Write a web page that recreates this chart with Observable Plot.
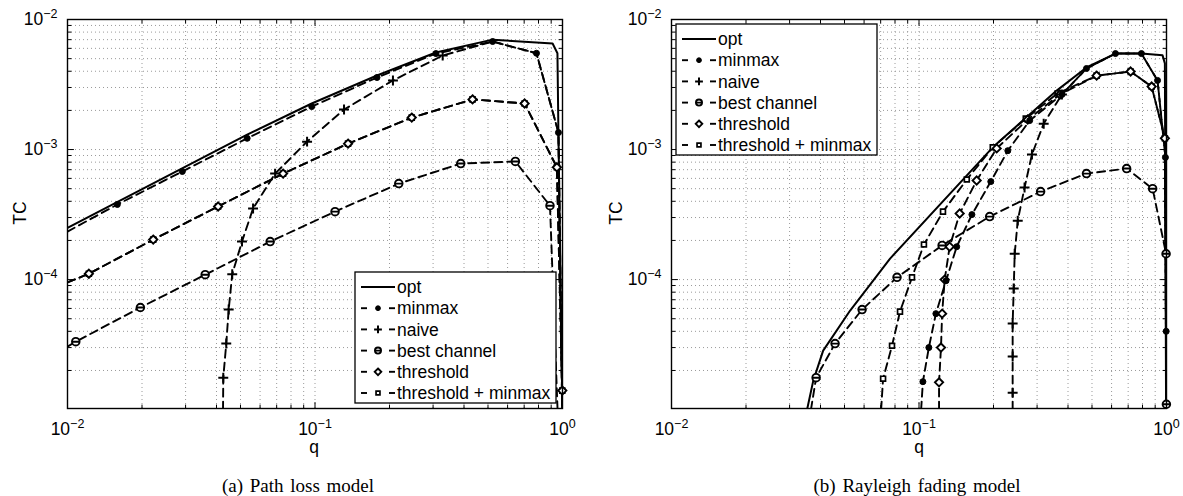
<!DOCTYPE html>
<html><head><meta charset="utf-8">
<script src="https://cdn.jsdelivr.net/npm/d3@7"></script>
<script src="https://cdn.jsdelivr.net/npm/@observablehq/plot@0.6"></script>
<style>
body{margin:0;background:#fff;width:1183px;height:496px;overflow:hidden;}
#wrap{position:relative;width:1183px;height:496px;font-family:"Liberation Sans",Arial,sans-serif;}
#wrap > div.panel{position:absolute;top:0;}
#overlay{position:absolute;left:0;top:0;pointer-events:none;}
</style></head><body><div id="wrap"></div>
<script>
// ---------- chart values ----------
const xDomain = [0.01, 1];
const yDomain = [1.02e-5, 1e-2];
const xMajor = [0.01, 0.1, 1];
const yMajor = [1e-4, 1e-3, 1e-2];
const xLabel = "q";
const yLabel = "TC";
const legendLabels = ["opt", "minmax", "naive", "best channel", "threshold", "threshold + minmax"];
const captions = ["(a) Path loss model", "(b) Rayleigh fading model"];

// [q, TC, marker(1) or plain vertex(0)]
// Panel (a): path loss model
const a_opt = [[0.01,2.5e-4],[0.0532,1.3e-3],[0.097,2.26e-3],[0.178,3.71e-3],[0.308,5.57e-3],[0.522,7.0e-3],[0.912,6.53e-3],[0.954,5.5e-3],[0.963,1.3e-3],[0.999,1e-5]];
const a_minmax = [[0.01,2.34e-4,0],[0.0159,3.78e-4,1],[0.0291,6.78e-4,1],[0.0532,1.22e-3,1],[0.097,2.14e-3,1],[0.178,3.58e-3,1],[0.308,5.47e-3,1],[0.522,6.77e-3,1],[0.785,5.5e-3,1],[0.963,1.35e-3,1],[0.997,1e-5,0]];
const a_naive = [[0.0425,1e-5,0],[0.0426,1.76e-5,1],[0.0438,3.22e-5,1],[0.0448,5.88e-5,1],[0.0463,1.1e-4,1],[0.0507,1.96e-4,1],[0.0562,3.52e-4,1],[0.069,6.53e-4,1],[0.0929,1.15e-3,1],[0.131,2.03e-3,1],[0.2065,3.4e-3,1],[0.328,5.28e-3,1],[0.522,6.77e-3,0],[0.785,5.5e-3,0],[0.963,1.35e-3,0],[0.997,1e-5,0]];
const a_best = [[0.01,3.05e-5,0],[0.0108,3.33e-5,1],[0.0197,6.1e-5,1],[0.036,1.09e-4,1],[0.0659,1.96e-4,1],[0.1205,3.33e-4,1],[0.218,5.47e-4,1],[0.388,7.8e-4,1],[0.645,8.1e-4,1],[0.89,3.7e-4,1],[0.955,1e-5,0]];
const a_threshold = [[0.01,9.5e-5,0],[0.0122,1.11e-4,1],[0.0222,2.03e-4,1],[0.0406,3.65e-4,1],[0.0743,6.53e-4,1],[0.136,1.11e-3,1],[0.246,1.76e-3,1],[0.433,2.43e-3,1],[0.703,2.26e-3,1],[0.949,7.3e-4,1],[0.998,1.4e-5,1],[0.999,1e-5,0]];
const a_thrMinmax = [[0.01,9.5e-5,0],[0.0122,1.11e-4,1],[0.0222,2.03e-4,1],[0.0406,3.65e-4,1],[0.0743,6.53e-4,1],[0.136,1.11e-3,1],[0.246,1.76e-3,1],[0.433,2.43e-3,1],[0.703,2.26e-3,1],[0.949,7.3e-4,1],[0.998,1.4e-5,1],[0.999,1e-5,0]];

// Panel (b): Rayleigh fading model
const b_opt = [[0.0353,1e-5],[0.0374,1.67e-5],[0.041,2.84e-5],[0.0527,5.78e-5],[0.0764,1.45e-4],[0.1986,1.04e-3],[0.36,2.84e-3],[0.475,4.28e-3],[0.622,5.47e-3],[0.792,5.47e-3],[0.964,5.3e-3],[0.985,4.6e-3],[0.996,1e-5]];
const b_minmax = [[0.102,1e-5,0],[0.1037,1.64e-5,1],[0.1096,3.0e-5,1],[0.117,5.47e-5,1],[0.1286,9.8e-5,1],[0.142,1.79e-4,1],[0.1636,3.16e-4,1],[0.195,5.67e-4,1],[0.2285,9.8e-4,1],[0.28,1.67e-3,1],[0.378,2.65e-3,1],[0.475,4.2e-3,1],[0.622,5.47e-3,1],[0.792,5.47e-3,1],[0.92,3.4e-3,1],[0.99,8.7e-4,1],[0.997,4.0e-5,1],[0.999,1e-5,0]];
const b_naive = [[0.239,1e-5,0],[0.239,1.35e-5,1],[0.239,2.56e-5,1],[0.239,4.59e-5,1],[0.2414,8.53e-5,1],[0.2436,1.58e-4,1],[0.2506,2.84e-4,1],[0.267,5.1e-4,1],[0.286,9.16e-4,1],[0.319,1.58e-3,1],[0.378,2.65e-3,1],[0.475,4.2e-3,0],[0.622,5.47e-3,0],[0.792,5.47e-3,0],[0.92,3.4e-3,0],[0.99,8.7e-4,0],[0.999,1e-5,0]];
const b_best = [[0.0366,1e-5,0],[0.0384,1.76e-5,1],[0.0458,3.22e-5,1],[0.0589,5.88e-5,1],[0.0815,1.04e-4,1],[0.124,1.83e-4,1],[0.193,3.05e-4,1],[0.31,4.75e-4,1],[0.475,6.53e-4,1],[0.69,7.14e-4,1],[0.879,5.0e-4,1],[0.996,1.58e-4,1],[0.999,1.1e-5,1],[0.9995,1e-5,0]];
const b_threshold = [[0.1205,1e-5,0],[0.1205,1.62e-5,1],[0.1227,3.0e-5,1],[0.124,5.47e-5,1],[0.127,1.0e-4,1],[0.133,1.79e-4,1],[0.146,3.22e-4,1],[0.171,5.78e-4,1],[0.206,1.02e-3,1],[0.275,1.7e-3,1],[0.371,2.65e-3,1],[0.522,3.7e-3,1],[0.716,3.98e-3,1],[0.871,3.05e-3,1],[0.985,1.22e-3,1],[0.999,1e-5,0]];
const b_thrMinmax = [[0.0703,1e-5,0],[0.0716,1.73e-5,1],[0.0778,3.1e-5,1],[0.0838,5.67e-5,1],[0.0937,1.04e-4,1],[0.1047,1.86e-4,1],[0.125,3.33e-4,1],[0.156,5.88e-4,1],[0.1986,1.04e-3,1],[0.27,1.73e-3,1],[0.363,2.7e-3,1],[0.522,3.7e-3,1],[0.716,3.98e-3,1],[0.871,3.05e-3,1],[0.985,1.22e-3,1],[0.999,1e-5,0]];

// ---------- styles ----------
const bestSymbol = {draw(ctx, size){const r=Math.sqrt(size/Math.PI);ctx.moveTo(r,0);ctx.arc(0,0,r,0,2*Math.PI);ctx.moveTo(-r,0);ctx.lineTo(r,0);}};
const tickShape = {draw(ctx, l){ctx.moveTo(0,0);ctx.lineTo(0,-l);}};
const styles = [
  {dash: null, symbol: null},
  {dash: "8,5", symbol: "circle", fill: "black", r: 3, sw: 1},
  {dash: "8,5", symbol: "plus", fill: "none", r: 3.3, sw: 2},
  {dash: "8,5", symbol: bestSymbol, fill: "white", r: 3.8, sw: 1.9},
  {dash: "8,5", symbol: "diamond2", fill: "white", r: 3.7, sw: 1.9},
  {dash: "8,5", symbol: "square2", fill: "white", r: 3.1, sw: 1.7}
];
const d3Sym = {circle: d3.symbolCircle, plus: d3.symbolPlus, diamond2: d3.symbolDiamond2, square2: d3.symbolSquare2};

const FONT = "Liberation Sans, Arial, sans-serif";
const H = 460;

function isMajor(v){const l=Math.log10(v);return Math.abs(l-Math.round(l))<1e-9;}
const xAll = d3.scaleLog().domain(xDomain).ticks();
const yAll = d3.scaleLog().domain(yDomain).ticks();
const xMinor = xAll.filter(v=>!isMajor(v));
const yMinor = yAll.filter(v=>!isMajor(v));
const fmt = d => "10^" + Math.round(Math.log10(d));

function panel(seriesList, width, mLeft, mRight){
  const marks = [];
  const grid = {stroke:"#9a9a9a", strokeWidth:1, strokeDasharray:"1,3"};
  marks.push(Plot.ruleX(xAll.filter(v=>v>xDomain[0]&&v<xDomain[1]), {x:d=>d, ...grid}));
  marks.push(Plot.ruleY(yAll.filter(v=>v>yDomain[0]&&v<yDomain[1]), {y:d=>d, ...grid}));
  const order = [5,4,3,2,1,0];
  for (const i of order){
    const st = styles[i];
    marks.push(Plot.line(seriesList[i], {x:d=>d[0], y:d=>d[1], stroke:"black", strokeWidth: i===0?2:1.9, strokeDasharray: st.dash, clip:true}));
  }
  for (const i of order){
    const st = styles[i];
    if (!st.symbol) continue;
    marks.push(Plot.dot(seriesList[i].filter(d=>d[2]===1), {x:d=>d[0], y:d=>d[1], symbol: st.symbol, r: st.r, fill: st.fill, stroke:"black", strokeWidth: st.sw}));
  }
  marks.push(Plot.frame({stroke:"black", strokeWidth:1.4}));
  const tk = (data, opts) => Plot.vector(data, {shape: tickShape, anchor:"start", stroke:"black", strokeWidth:1, ...opts});
  marks.push(tk(xMajor, {x:d=>d, frameAnchor:"bottom", length:6}));
  marks.push(tk(xMinor, {x:d=>d, frameAnchor:"bottom", length:3.5}));
  marks.push(tk(xMajor, {x:d=>d, frameAnchor:"top", length:6, rotate:180}));
  marks.push(tk(xMinor, {x:d=>d, frameAnchor:"top", length:3.5, rotate:180}));
  marks.push(tk(yMajor, {y:d=>d, frameAnchor:"left", length:6, rotate:90}));
  marks.push(tk(yMinor, {y:d=>d, frameAnchor:"left", length:3.5, rotate:90}));
  marks.push(tk(yMajor, {y:d=>d, frameAnchor:"right", length:6, rotate:-90}));
  marks.push(tk(yMinor, {y:d=>d, frameAnchor:"right", length:3.5, rotate:-90}));
  marks.push(Plot.axisX(xMajor, {anchor:"bottom", tickSize:0, tickPadding:14, tickFormat: fmt, label:null}));
  marks.push(Plot.axisY(yMajor, {anchor:"left", tickSize:0, tickPadding:10, tickFormat: fmt, label:null}));
  const svg = Plot.plot({
    width, height: H,
    marginLeft: mLeft, marginRight: mRight, marginTop: 19, marginBottom: H-408,
    x: {type:"log", domain: xDomain},
    y: {type:"log", domain: yDomain},
    style: {fontFamily: FONT, fontSize: "17.5px", color:"black", background:"white", overflow:"visible"},
    marks
  });
  d3.select(svg).selectAll('g[aria-label$="tick label"] text').each(function(){
    const s = this.textContent;
    if (!s.includes("^")) return;
    const [b, e] = s.split("^");
    const t = d3.select(this);
    t.text(null);
    t.append("tspan").text(b);
    t.append("tspan").attr("dy","-0.55em").attr("font-size","12.5px").text(e.replace("-","\u2212"));
  });
  return svg;
}

const wrap = document.getElementById("wrap");
const panels = [
  {series:[a_opt,a_minmax,a_naive,a_best,a_threshold,a_thrMinmax], left:0, width:591, mL:67, mR:29,
   legend:{x:355,y:272}, tc:{x:20,y:213}, q:{x:314,y:453}, cap:{x:298,y:492}},
  {series:[b_opt,b_minmax,b_naive,b_best,b_threshold,b_thrMinmax], left:591, width:592, mL:80, mR:17,
   legend:{x:676,y:24}, tc:{x:616,y:213}, q:{x:919,y:453}, cap:{x:917,y:492}}
];
for (const p of panels){
  const div = document.createElement("div");
  div.className = "panel";
  div.style.left = p.left + "px";
  div.appendChild(panel(p.series, p.width, p.mL, p.mR));
  wrap.appendChild(div);
}

// overlay: legends, axis titles, captions (text)
const ov = d3.select(wrap).append("svg").attr("id","overlay").attr("width",1183).attr("height",496)
  .style("font-family", FONT);
for (const p of panels){
  const g = ov.append("g").attr("transform", `translate(${p.legend.x},${p.legend.y})`);
  g.append("rect").attr("width",201).attr("height",131).attr("fill","white").attr("stroke","black").attr("stroke-width",1.3);
  legendLabels.forEach((lab, i) => {
    const cy = 15 + i*21.2;
    const st = styles[i];
    if (!st.dash){
      g.append("line").attr("x1",6).attr("x2",40).attr("y1",cy).attr("y2",cy).attr("stroke","black").attr("stroke-width",2);
    } else {
      g.append("line").attr("x1",6).attr("x2",12).attr("y1",cy).attr("y2",cy).attr("stroke","black").attr("stroke-width",1.9);
      g.append("line").attr("x1",34).attr("x2",40).attr("y1",cy).attr("y2",cy).attr("stroke","black").attr("stroke-width",1.9);
      const type = typeof st.symbol === "string" ? d3Sym[st.symbol] : st.symbol;
      const rr = st.r * 0.8;
      g.append("path").attr("transform",`translate(23,${cy})`)
        .attr("d", d3.symbol(type, Math.PI*rr*rr)())
        .attr("fill", st.fill).attr("stroke","black").attr("stroke-width", st.sw);
    }
    g.append("text").attr("x",42).attr("y",cy).attr("dy","0.35em").attr("font-size","17.5px").text(lab);
  });
  ov.append("text").attr("transform",`translate(${p.tc.x},${p.tc.y}) rotate(-90)`).attr("text-anchor","middle")
    .attr("dy","0.35em").attr("font-size","17.5px").text(yLabel);
  ov.append("text").attr("x",p.q.x).attr("y",p.q.y).attr("text-anchor","middle").attr("font-size","17.5px").text(xLabel);
}
panels.forEach((p,i)=>{
  ov.append("text").attr("x",p.cap.x).attr("y",p.cap.y).attr("text-anchor","middle")
    .attr("font-family","Liberation Serif, Times New Roman, serif").attr("font-size","19px").attr("word-spacing","2px")
    .text(captions[i]);
});
</script>
</body></html>
